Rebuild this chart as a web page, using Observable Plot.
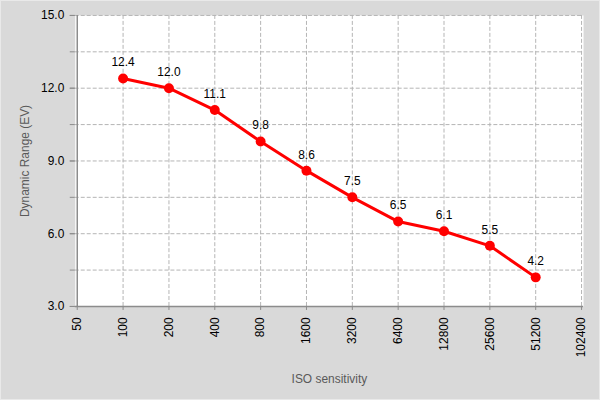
<!DOCTYPE html>
<html>
<head>
<meta charset="utf-8">
<script src="https://cdn.jsdelivr.net/npm/d3@7"></script>
<script src="https://cdn.jsdelivr.net/npm/@observablehq/plot@0.6"></script>
<style>
  html, body { margin: 0; padding: 0; background: #d9d9d9; }
  #chart { width: 600px; height: 400px; box-sizing: border-box; border: 1px solid #e9e9e9; overflow: hidden; }
  #chart svg { display: block; margin: -1px 0 0 -1px; }
  g[aria-label="x-axis label"], g[aria-label="y-axis label"] { fill: #595959; }
</style>
</head>
<body>
<div id="chart"></div>
<script>
// ISO sensitivity steps shown on the x axis
const isoTicks = [50, 100, 200, 400, 800, 1600, 3200, 6400, 12800, 25600, 51200, 102400];
// Measured ISO values and their dynamic range (EV)
const isoValues = [100, 200, 400, 800, 1600, 3200, 6400, 12800, 25600, 51200];
const dynamicRange = [12.4, 12.0, 11.1, 9.8, 8.6, 7.5, 6.5, 6.1, 5.5, 4.2];
// Y axis labelled ticks and dashed grid steps
const yTicks = [3, 6, 9, 12, 15];
const yGrid = [4.5, 6, 7.5, 9, 10.5, 12, 13.5, 15];

const data = isoValues.map((iso, i) => ({iso, dr: dynamicRange[i]}));

const chart = Plot.plot({
  width: 600,
  height: 400,
  marginLeft: 75,
  marginRight: 15,
  marginTop: 15,
  marginBottom: 93,
  style: {background: "#d9d9d9", fontFamily: "'Liberation Sans', Arial, sans-serif", fontSize: "12px", color: "#000"},
  x: {type: "point", domain: isoTicks, padding: 0},
  y: {domain: [3, 15]},
  marks: [
    Plot.frame({fill: "white", stroke: null}),
    Plot.ruleY(yGrid, {stroke: "#b5b5b5", strokeWidth: 1, strokeDasharray: "4,2"}),
    Plot.ruleX(isoTicks.slice(1), {stroke: "#b5b5b5", strokeWidth: 1, strokeDasharray: "4,2"}),
    Plot.ruleX([50], {stroke: "#8c8c8c", strokeWidth: 1.5}),
    Plot.ruleY([3], {stroke: "#8c8c8c", strokeWidth: 1.5}),
    // small tick marks at every grid step, labels only every 3 EV
    Plot.axisY({ticks: [3, ...yGrid], tickSize: 5, text: null, stroke: "#8c8c8c", label: null}),
    Plot.axisY({ticks: yTicks, tickFormat: d => d.toFixed(1), tickSize: 5, tickPadding: 6, stroke: "#8c8c8c",
      label: "Dynamic Range (EV)", labelAnchor: "center", labelOffset: 55, labelArrow: false}),
    Plot.axisX({ticks: isoTicks, tickFormat: d => String(d), tickSize: 4, tickPadding: 7, tickRotate: -90, stroke: "#8c8c8c",
      label: "ISO sensitivity", labelAnchor: "center", labelOffset: 77, labelArrow: false}),
    Plot.line(data, {x: "iso", y: "dr", stroke: "#ff0000", strokeWidth: 3}),
    Plot.dot(data, {x: "iso", y: "dr", r: 5, fill: "#ff0000", stroke: null}),
    Plot.text(data, {x: "iso", y: "dr", text: d => d.dr.toFixed(1), dy: -16, fill: "#000", fontSize: 12})
  ]
});
document.getElementById("chart").appendChild(chart);
</script>
</body>
</html>
